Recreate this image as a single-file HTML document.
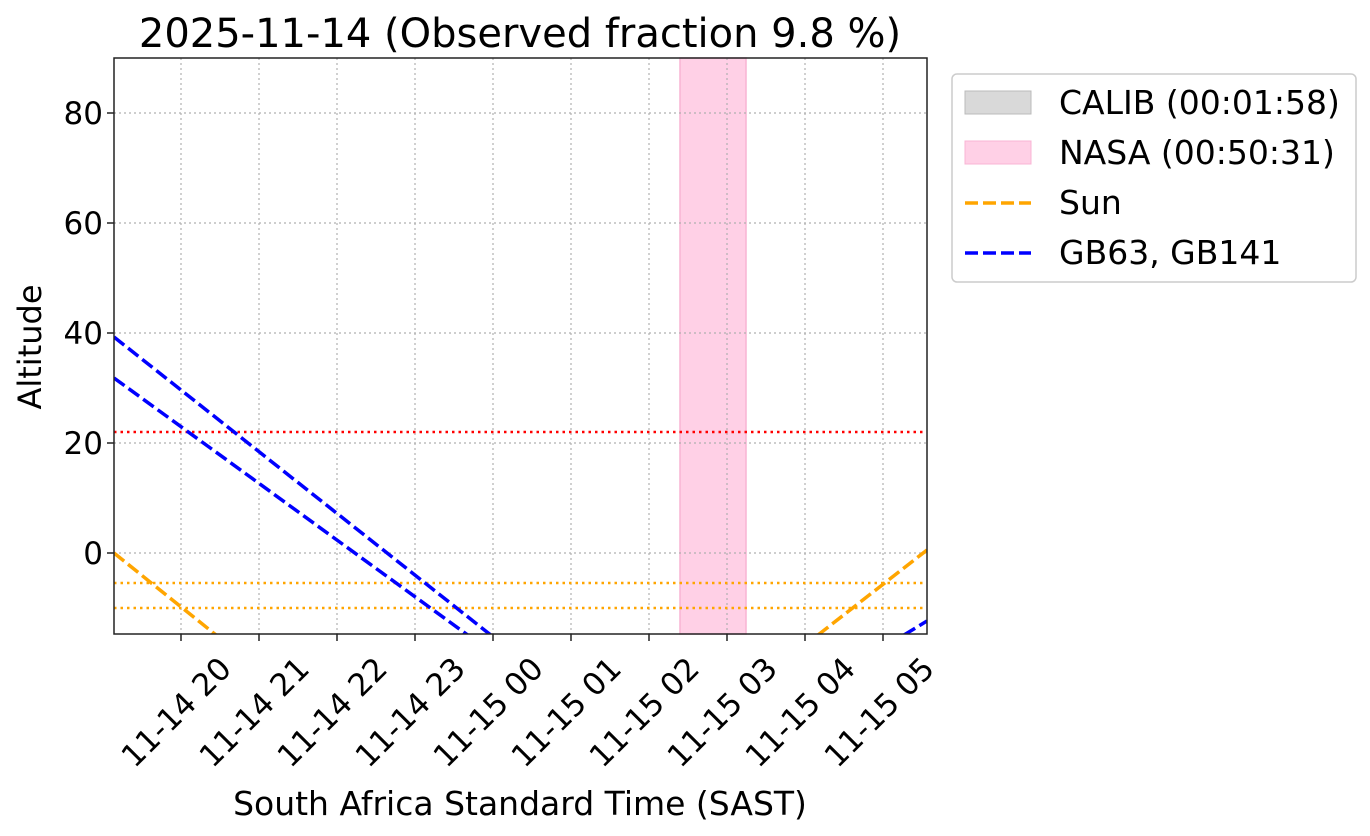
<!DOCTYPE html>
<html><head><style>body{margin:0;background:#fff}svg{display:block}text{font-family:"DejaVu Sans","Liberation Sans",sans-serif;fill:#000}</style></head>
<body>
<svg width="1370" height="836" viewBox="0 0 1370 836" xmlns="http://www.w3.org/2000/svg">
<defs><clipPath id="c"><rect x="114" y="58" width="813" height="576"/></clipPath></defs>
<rect x="680" y="58" width="66" height="576" fill="#ffd0e6" stroke="#f8b4d4" stroke-width="1.5"/>
<g stroke="#b0b0b0" stroke-width="1.2" stroke-dasharray="2,3">
<line x1="181" y1="58" x2="181" y2="634"/><line x1="259" y1="58" x2="259" y2="634"/><line x1="337" y1="58" x2="337" y2="634"/><line x1="415" y1="58" x2="415" y2="634"/><line x1="493" y1="58" x2="493" y2="634"/><line x1="571" y1="58" x2="571" y2="634"/><line x1="649" y1="58" x2="649" y2="634"/><line x1="727" y1="58" x2="727" y2="634"/><line x1="805" y1="58" x2="805" y2="634"/><line x1="883" y1="58" x2="883" y2="634"/>
<line x1="114" y1="113" x2="927" y2="113"/><line x1="114" y1="223" x2="927" y2="223"/><line x1="114" y1="333" x2="927" y2="333"/><line x1="114" y1="443" x2="927" y2="443"/><line x1="114" y1="553" x2="927" y2="553"/>
</g>
<g clip-path="url(#c)" fill="none" stroke-width="3.5">
<line x1="114" y1="432" x2="927" y2="432" stroke="#ff0000" stroke-width="2.5" stroke-dasharray="2.5,4"/>
<line x1="114" y1="583" x2="927" y2="583" stroke="#ffa500" stroke-width="2.5" stroke-dasharray="2.5,4"/>
<line x1="114" y1="608" x2="927" y2="608" stroke="#ffa500" stroke-width="2.5" stroke-dasharray="2.5,4"/>
<line x1="114" y1="337" x2="492" y2="636" stroke="#0000ff" stroke-dasharray="13,5"/>
<line x1="114" y1="378" x2="469" y2="636" stroke="#0000ff" stroke-dasharray="13,5"/>
<line x1="904" y1="635" x2="927" y2="621" stroke="#0000ff" stroke-dasharray="13,5"/>
<line x1="114" y1="553" x2="216" y2="635" stroke="#ffa500" stroke-dasharray="13,5"/>
<line x1="818" y1="635" x2="927" y2="550" stroke="#ffa500" stroke-dasharray="13,5"/>
</g>
<rect x="114" y="58" width="813" height="576" fill="none" stroke="#222" stroke-width="1.5"/>
<g stroke="#222" stroke-width="1.5">
<line x1="107" y1="113" x2="114" y2="113"/><line x1="107" y1="223" x2="114" y2="223"/><line x1="107" y1="333" x2="114" y2="333"/><line x1="107" y1="443" x2="114" y2="443"/><line x1="107" y1="553" x2="114" y2="553"/>
<line x1="181" y1="634" x2="181" y2="641"/><line x1="259" y1="634" x2="259" y2="641"/><line x1="337" y1="634" x2="337" y2="641"/><line x1="415" y1="634" x2="415" y2="641"/><line x1="493" y1="634" x2="493" y2="641"/><line x1="571" y1="634" x2="571" y2="641"/><line x1="649" y1="634" x2="649" y2="641"/><line x1="727" y1="634" x2="727" y2="641"/><line x1="805" y1="634" x2="805" y2="641"/><line x1="883" y1="634" x2="883" y2="641"/>
</g>
<g font-size="31" text-anchor="end">
<text x="103" y="124">80</text><text x="103" y="234">60</text><text x="103" y="344">40</text><text x="103" y="454">20</text><text x="103" y="564">0</text>
</g>
<g font-size="31" text-anchor="middle">
<text transform="translate(176,712) rotate(-45)" y="11">11-14 20</text>
<text transform="translate(254,712) rotate(-45)" y="11">11-14 21</text>
<text transform="translate(332,712) rotate(-45)" y="11">11-14 22</text>
<text transform="translate(410,712) rotate(-45)" y="11">11-14 23</text>
<text transform="translate(488,712) rotate(-45)" y="11">11-15 00</text>
<text transform="translate(566,712) rotate(-45)" y="11">11-15 01</text>
<text transform="translate(644,712) rotate(-45)" y="11">11-15 02</text>
<text transform="translate(722,712) rotate(-45)" y="11">11-15 03</text>
<text transform="translate(800,712) rotate(-45)" y="11">11-15 04</text>
<text transform="translate(879,712) rotate(-45)" y="11">11-15 05</text>
</g>
<text x="520" y="47" font-size="40" text-anchor="middle">2025-11-14 (Observed fraction 9.8 %)</text>
<text x="520" y="815" font-size="33" text-anchor="middle">South Africa Standard Time (SAST)</text>
<text transform="translate(41,347) rotate(-90)" font-size="32" text-anchor="middle">Altitude</text>
<rect x="952" y="74" width="404" height="208" rx="5" fill="#fff" stroke="#ccc" stroke-width="1.5"/>
<rect x="965" y="91" width="66" height="23" fill="#d9d9d9" stroke="#bbb"/>
<rect x="965" y="141" width="66" height="23" fill="#ffd0e6" stroke="#f8b4d4"/>
<line x1="965" y1="203" x2="1031" y2="203" stroke="#ffa500" stroke-width="3.5" stroke-dasharray="13,5"/>
<line x1="965" y1="253" x2="1031" y2="253" stroke="#0000ff" stroke-width="3.5" stroke-dasharray="13,5"/>
<g font-size="33">
<text x="1059" y="114">CALIB (00:01:58)</text>
<text x="1059" y="164">NASA (00:50:31)</text>
<text x="1059" y="214">Sun</text>
<text x="1059" y="264">GB63, GB141</text>
</g>
</svg>
</body></html>
